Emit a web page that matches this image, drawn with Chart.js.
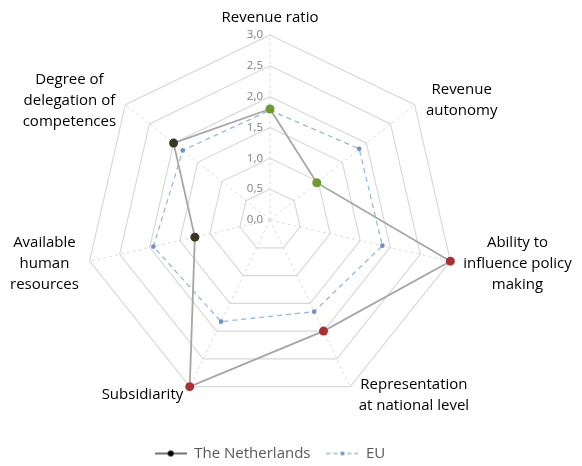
<!DOCTYPE html>
<html>
<head>
<meta charset="utf-8">
<script src="https://cdn.jsdelivr.net/npm/chart.js@4/dist/chart.umd.min.js"></script>
<style>
  html, body { margin: 0; padding: 0; background: #fff; }
  #wrap { width: 582px; height: 466px; position: relative; }
</style>
</head>
<body>
<div id="wrap"><canvas id="radar"></canvas></div>
<script>
// axes, clockwise from the top
const categories = [
  'Revenue ratio',
  ['Revenue', 'autonomy'],
  ['Ability to', 'influence policy', 'making'],
  ['Representation', 'at national level'],
  'Subsidiarity',
  ['Available', 'human', 'resources'],
  ['Degree of', 'delegation of', 'competences']
];
const netherlands = [1.8, 0.97, 3.0, 2.0, 3.0, 1.25, 2.0];
const eu = [1.78, 1.85, 1.87, 1.65, 1.83, 1.94, 1.81];
const nlPointColors = ['#6f9a30', '#6f9a30', '#ac3030', '#ac3030', '#ac3030', '#3b3722', '#3b3722'];
const scaleMin = 0;
const scaleMax = 3;
const scaleStep = 0.5;

const FONT = "'Open Sans', sans-serif";

// small legend markers: line with a dot in the middle
function makeMarker(color, dotColor, dash, dotR) {
  const c = document.createElement('canvas');
  c.width = 32; c.height = 10;
  const g = c.getContext('2d');
  g.strokeStyle = color;
  g.lineWidth = 1.3;
  g.setLineDash(dash);
  g.beginPath(); g.moveTo(0, 5); g.lineTo(32, 5); g.stroke();
  g.setLineDash([]);
  g.fillStyle = dotColor;
  g.beginPath(); g.arc(16, 5, dotR, 0, Math.PI * 2); g.fill();
  return c;
}

// tick labels to the left of the vertical axis, and centred point labels (Excel style)
const labelPlugin = {
  id: 'excelLabels',
  afterDatasetsDraw(chart) {
    const s = chart.scales.r;
    const ctx = chart.ctx;
    ctx.save();
    ctx.font = '11.5px ' + FONT;
    ctx.fillStyle = '#7f7f7f';
    ctx.textAlign = 'right';
    ctx.textBaseline = 'middle';
    s.ticks.forEach(t => {
      const d = s.getDistanceFromCenterForValue(t.value);
      ctx.fillText(t.value.toFixed(1).replace('.', ','), s.xCenter - 7, s.yCenter - d);
    });

    const lh = 21;
    ctx.font = '15px ' + FONT;
    ctx.fillStyle = '#000000';
    ctx.textAlign = 'center';
    chart.data.labels.forEach((lab, i) => {
      const lines = Array.isArray(lab) ? lab : [lab];
      const w = Math.max(...lines.map(l => ctx.measureText(l).width));
      const h = lines.length * lh;
      const p = s.getPointPosition(i, s.drawingArea + 8);
      const sin = (p.x - s.xCenter) / (s.drawingArea + 8);
      let cx, cy;
      if (Math.abs(sin) < 0.1) {
        cx = p.x;
        cy = p.y - h / 2 + 1;
      } else {
        cx = sin > 0 ? p.x + 5 + w / 2 : p.x - 3 - w / 2;
        cy = p.y + 1;
      }
      lines.forEach((l, k) => {
        ctx.fillText(l, cx, cy - h / 2 + lh * (k + 0.5));
      });
    });
    ctx.restore();
  }
};

const ctx = document.getElementById('radar').getContext('2d');
new Chart(ctx, {
  type: 'radar',
  data: {
    labels: categories,
    datasets: [
      {
        label: 'The Netherlands',
        data: netherlands,
        borderColor: '#a6a6a6',
        borderWidth: 1.8,
        fill: false,
        pointRadius: 4.5,
        pointBorderWidth: 0,
        pointBackgroundColor: nlPointColors,
        legendMarker: makeMarker('#262626', '#000000', [], 3)
      },
      {
        label: 'EU',
        data: eu,
        borderColor: '#9bb7dc',
        borderWidth: 1.3,
        borderDash: [5, 4],
        fill: false,
        pointRadius: 2.3,
        pointBorderWidth: 0,
        pointBackgroundColor: '#6f91c4',
        legendMarker: makeMarker('#9bb7dc', '#6f91c4', [4, 3], 2)
      }
    ]
  },
  options: {
    responsive: true,
    maintainAspectRatio: false,
    animation: false,
    layout: { padding: { left: 85, right: 127, top: 11, bottom: -5 } },
    plugins: {
      legend: {
        position: 'bottom',
        labels: {
          usePointStyle: true,
          pointStyleWidth: 32,
          boxHeight: 10,
          padding: 16,
          color: '#595959',
          font: { family: FONT, size: 15 },
          generateLabels(chart) {
            return chart.data.datasets.map((ds, i) => ({
              text: ds.label,
              pointStyle: ds.legendMarker,
              fontColor: '#595959',
              lineWidth: 0,
              strokeStyle: 'transparent',
              fillStyle: 'transparent',
              hidden: false,
              datasetIndex: i
            }));
          }
        }
      },
      tooltip: { enabled: false }
    },
    scales: {
      r: {
        min: scaleMin,
        max: scaleMax,
        ticks: { stepSize: scaleStep, display: false },
        grid: { color: '#d9d9d9', lineWidth: 1.2 },
        angleLines: { color: '#dcdcdc', lineWidth: 1, borderDash: [3, 3] },
        pointLabels: { display: false }
      }
    }
  },
  plugins: [labelPlugin]
});
</script>
</body>
</html>
